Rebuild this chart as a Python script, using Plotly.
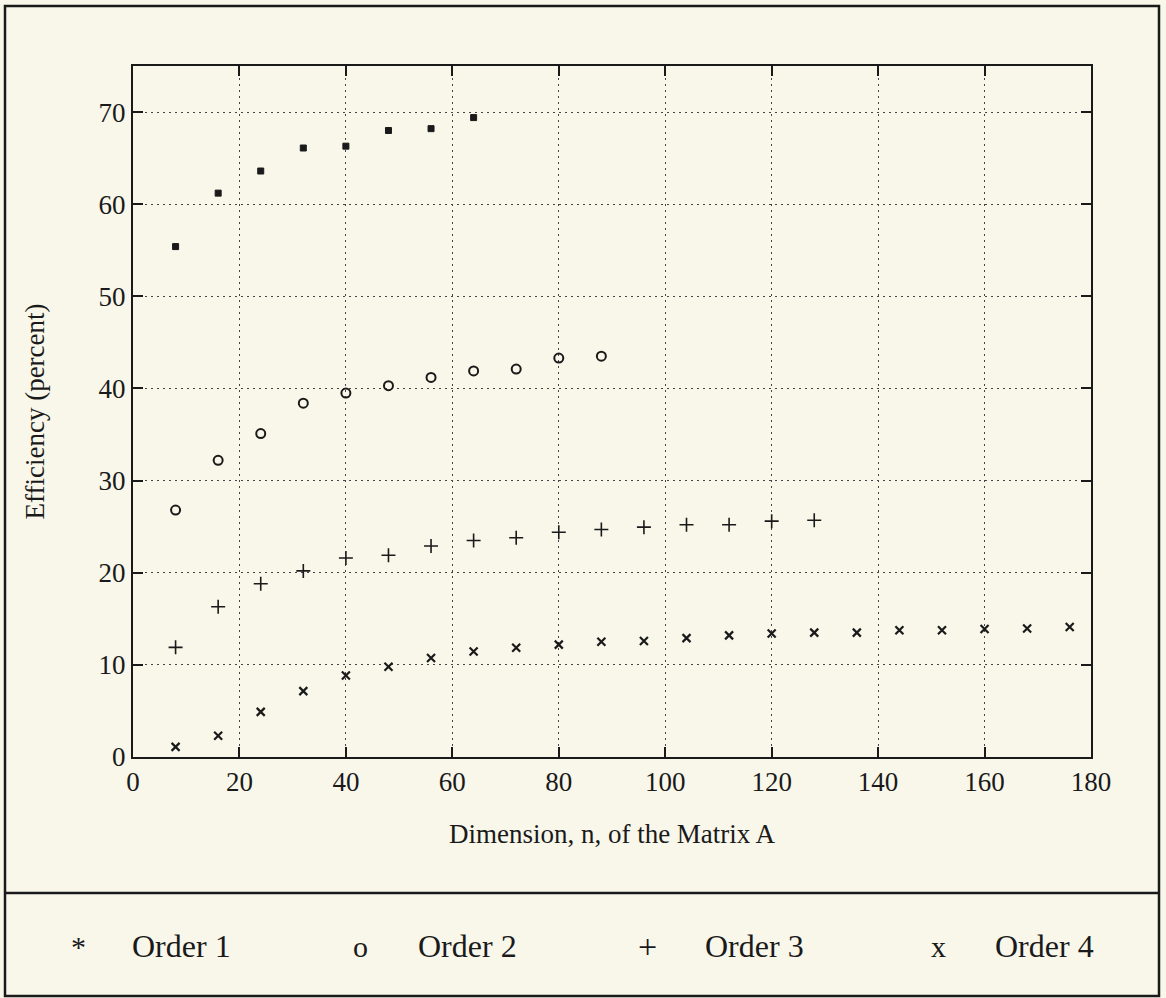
import plotly.graph_objects as go

# ---- data ----
n_order1 = [8, 16, 24, 32, 40, 48, 56, 64]
eff_order1 = [55.4, 61.2, 63.6, 66.1, 66.3, 68.0, 68.2, 69.4]

n_order2 = [8, 16, 24, 32, 40, 48, 56, 64, 72, 80, 88]
eff_order2 = [26.8, 32.2, 35.1, 38.4, 39.5, 40.3, 41.2, 41.9, 42.1, 43.3, 43.5]

n_order3 = [8, 16, 24, 32, 40, 48, 56, 64, 72, 80, 88, 96, 104, 112, 120, 128]
eff_order3 = [11.9, 16.3, 18.8, 20.2, 21.6, 21.9, 22.9, 23.5, 23.8, 24.4, 24.7,
              24.95, 25.2, 25.2, 25.6, 25.7]

n_order4 = [8, 16, 24, 32, 40, 48, 56, 64, 72, 80, 88, 96, 104, 112, 120, 128,
            136, 144, 152, 160, 168, 176]
eff_order4 = [1.1, 2.3, 4.9, 7.15, 8.85, 9.8, 10.75, 11.45, 11.85, 12.2, 12.5,
              12.6, 12.9, 13.2, 13.4, 13.5, 13.5, 13.75, 13.75, 13.9, 13.95, 14.1]

x_ticks = [0, 20, 40, 60, 80, 100, 120, 140, 160, 180]
y_ticks = [0, 10, 20, 30, 40, 50, 60, 70]

legend_symbols = ["*", "o", "+", "x"]
legend_labels = ["Order 1", "Order 2", "Order 3", "Order 4"]

BG = "#f8f7ea"
INK = "#1a1a1a"
FONT = "Liberation Serif, Times New Roman, serif"

fig = go.Figure()

fig.add_trace(go.Scatter(x=n_order1, y=eff_order1, mode="markers", name="Order 1",
                         marker=dict(symbol="square", size=6, color=INK,
                                     line=dict(color=INK, width=1))))
fig.add_trace(go.Scatter(x=n_order2, y=eff_order2, mode="markers", name="Order 2",
                         marker=dict(symbol="circle-open", size=9, color=INK,
                                     line=dict(color=INK, width=2))))
fig.add_trace(go.Scatter(x=n_order3, y=eff_order3, mode="markers", name="Order 3",
                         marker=dict(symbol="cross-thin-open", size=10, color=INK,
                                     line=dict(color=INK, width=1.6))))
fig.add_trace(go.Scatter(x=n_order4, y=eff_order4, mode="markers", name="Order 4",
                         marker=dict(symbol="x-thin-open", size=8, color=INK,
                                     line=dict(color=INK, width=2.2))))

axis_common = dict(
    showline=True, linecolor=INK, linewidth=2, mirror="ticks",
    ticks="inside", ticklen=10, tickwidth=2, tickcolor=INK,
    showgrid=True, gridcolor="#444444", gridwidth=1, griddash="2px,4px",
    zeroline=False, tickfont=dict(family=FONT, size=27, color=INK),
)

fig.update_layout(
    width=1166, height=998,
    margin=dict(l=133, r=75, t=66, b=241),
    paper_bgcolor=BG, plot_bgcolor=BG,
    showlegend=False,
    font=dict(family=FONT, color=INK),
    xaxis=dict(range=[0, 180], tickvals=x_ticks, **axis_common,
               title=dict(text="Dimension, n, of the Matrix A",
                          font=dict(family=FONT, size=27, color=INK), standoff=28)),
    yaxis=dict(range=[0, 75], tickvals=y_ticks, **axis_common,
               title=dict(text="Efficiency (percent)",
                          font=dict(family=FONT, size=27, color=INK), standoff=46)),
)

# outer frame and legend separator (paper coordinates)
W, H = 958.0, 691.0
def px(xp):
    return (xp - 133) / W
def py(yp):
    return (757 - yp) / H

fig.add_shape(type="rect", xref="paper", yref="paper",
              x0=px(5), x1=px(1159), y0=py(996), y1=py(6),
              line=dict(color=INK, width=2.5))
fig.add_shape(type="line", xref="paper", yref="paper",
              x0=px(5), x1=px(1159), y0=py(893), y1=py(893),
              line=dict(color=INK, width=2.5))

# legend drawn as text, like the reference
sym_x = [78, 360, 647, 938]
lab_x = [130, 416, 703, 993]
for s, lab, sx, lx in zip(legend_symbols, legend_labels, sym_x, lab_x):
    fig.add_annotation(xref="paper", yref="paper", x=px(sx), y=py(946),
                       text=s, showarrow=False, xanchor="center", yanchor="middle",
                       font=dict(family=FONT, size=30 if s != "+" else 34, color=INK))
    fig.add_annotation(xref="paper", yref="paper", x=px(lx), y=py(946),
                       text=lab, showarrow=False, xanchor="left", yanchor="middle",
                       font=dict(family=FONT, size=32, color=INK))

fig.write_html("out.html")
